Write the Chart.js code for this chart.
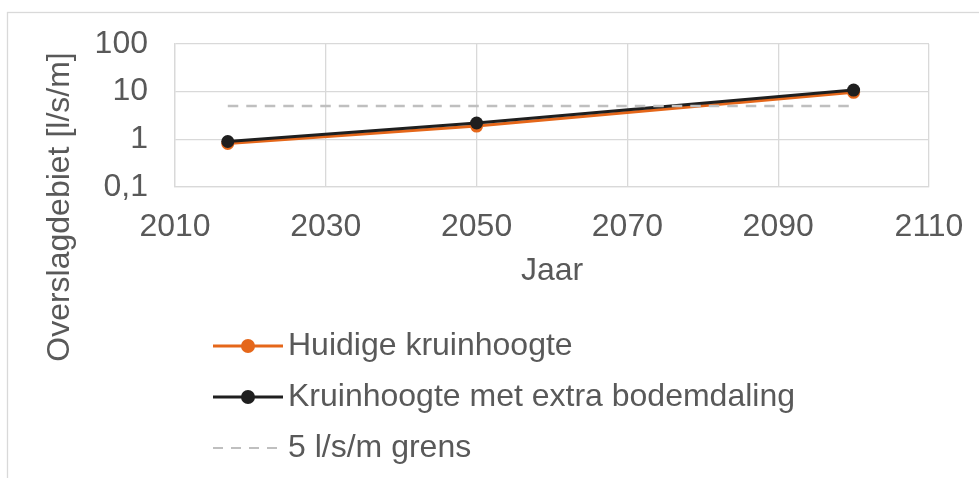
<!DOCTYPE html>
<html>
<head>
<meta charset="utf-8">
<title>Overslagdebiet</title>
<style>
  html, body { margin: 0; padding: 0; background: #ffffff; }
  #wrap { width: 979px; height: 478px; position: relative; }
</style>
<script src="https://cdn.jsdelivr.net/npm/chart.js@4.4.1/dist/chart.umd.min.js"></script>
</head>
<body>
<div id="wrap"><canvas id="chart"></canvas></div>
<script>
// Values
const years = [2017, 2050, 2100];
const huidige = [0.82, 1.9, 9.7];
const extraDaling = [0.9, 2.2, 10.8];
const grensYears = [2017, 2100];
const grensValues = [5, 5];
const yTicks = [0.1, 1, 10, 100];
const seriesNames = [
  "Huidige kruinhoogte",
  "Kruinhoogte met extra bodemdaling",
  "5 l/s/m grens",
];

const textColor = "#595959";
const gridColor = "#d9d9d9";
const fontFamily = "'Liberation Sans', Arial, sans-serif";
const font = { family: fontFamily, size: 32 };

const toPoints = (xs, ys) => xs.map((x, i) => ({ x: x, y: ys[i] }));

// Outer frame, rotated y title and the legend with line + marker samples
const extras = {
  id: "extras",
  beforeDraw(chart) {
    const c = chart.ctx;
    c.save();
    c.strokeStyle = gridColor;
    c.lineWidth = 1.3;
    c.strokeRect(7.5, 12.5, chart.width + 20, chart.height + 20);
    c.restore();
  },
  afterDraw(chart) {
    const c = chart.ctx;
    c.save();
    c.font = "32px " + fontFamily;
    c.fillStyle = textColor;
    c.translate(60, 207);
    c.rotate(-Math.PI / 2);
    c.textAlign = "center";
    c.textBaseline = "middle";
    c.fillText("Overslagdebiet [l/s/m]", 0, 0);
    c.restore();

    const area = chart.chartArea;
    chart.data.datasets.forEach((ds, i) => {
      const y = area.bottom + 159 + i * 51;
      const x0 = 213, x1 = 283;
      c.save();
      c.strokeStyle = ds.borderColor;
      c.lineWidth = ds.borderDash ? 2 : 3;
      c.setLineDash(ds.borderDash ? [10, 8] : []);
      c.beginPath();
      c.moveTo(x0, y);
      c.lineTo(x1, y);
      c.stroke();
      if (ds.pointRadius > 0) {
        c.setLineDash([]);
        c.fillStyle = ds.backgroundColor;
        c.beginPath();
        c.arc((x0 + x1) / 2, y, 7, 0, Math.PI * 2);
        c.fill();
      }
      c.font = "32px " + fontFamily;
      c.fillStyle = textColor;
      c.textAlign = "left";
      c.textBaseline = "middle";
      c.fillText(ds.label, 288, y);
      c.restore();
    });
  },
};

new Chart(document.getElementById("chart"), {
  type: "line",
  data: {
    datasets: [
      {
        label: seriesNames[0],
        data: toPoints(years, huidige),
        borderColor: "#E5671A",
        backgroundColor: "#E5671A",
        borderWidth: 3,
        pointRadius: 6.5,
        pointBorderWidth: 0,
        order: 2,
      },
      {
        label: seriesNames[1],
        data: toPoints(years, extraDaling),
        borderColor: "#1f1f1f",
        backgroundColor: "#1f1f1f",
        borderWidth: 3,
        pointRadius: 6.5,
        pointBorderWidth: 0,
        order: 1,
      },
      {
        label: seriesNames[2],
        data: toPoints(grensYears, grensValues),
        borderColor: "#bfbfbf",
        backgroundColor: "#bfbfbf",
        borderWidth: 2.5,
        borderDash: [10.5, 8],
        pointRadius: 0,
        order: 0,
      },
    ],
  },
  options: {
    responsive: true,
    maintainAspectRatio: false,
    animation: false,
    layout: { padding: { top: 44, right: 50, bottom: 188, left: 0 } },
    plugins: { legend: { display: false }, tooltip: { enabled: false } },
    scales: {
      x: {
        type: "linear",
        min: 2010,
        max: 2110,
        ticks: {
          stepSize: 20,
          color: textColor,
          font: font,
          padding: 12,
          maxRotation: 0,
          callback: (v) => String(v),
        },
        grid: {
          color: gridColor,
          lineWidth: 1.3,
          drawTicks: true,
          tickLength: 9,
          tickColor: "rgba(0,0,0,0)",
        },
        border: { color: gridColor, width: 1.3 },
        title: {
          display: true,
          text: "Jaar",
          color: textColor,
          font: font,
          padding: { top: 0, bottom: 0 },
        },
        afterFit(scale) {
          scale.height = 103;
        },
      },
      y: {
        type: "logarithmic",
        min: 0.1,
        max: 100,
        afterBuildTicks(scale) {
          scale.ticks = yTicks.map((v) => ({ value: v }));
        },
        ticks: {
          color: textColor,
          font: font,
          padding: 10,
          callback: (v) => String(v).replace(".", ","),
        },
        grid: {
          color: gridColor,
          lineWidth: 1.3,
          drawTicks: true,
          tickLength: 17,
          tickColor: "rgba(0,0,0,0)",
        },
        border: { color: gridColor, width: 1.3 },
        afterFit(scale) {
          scale.width = 175;
        },
      },
    },
  },
  plugins: [extras],
});
</script>
</body>
</html>
